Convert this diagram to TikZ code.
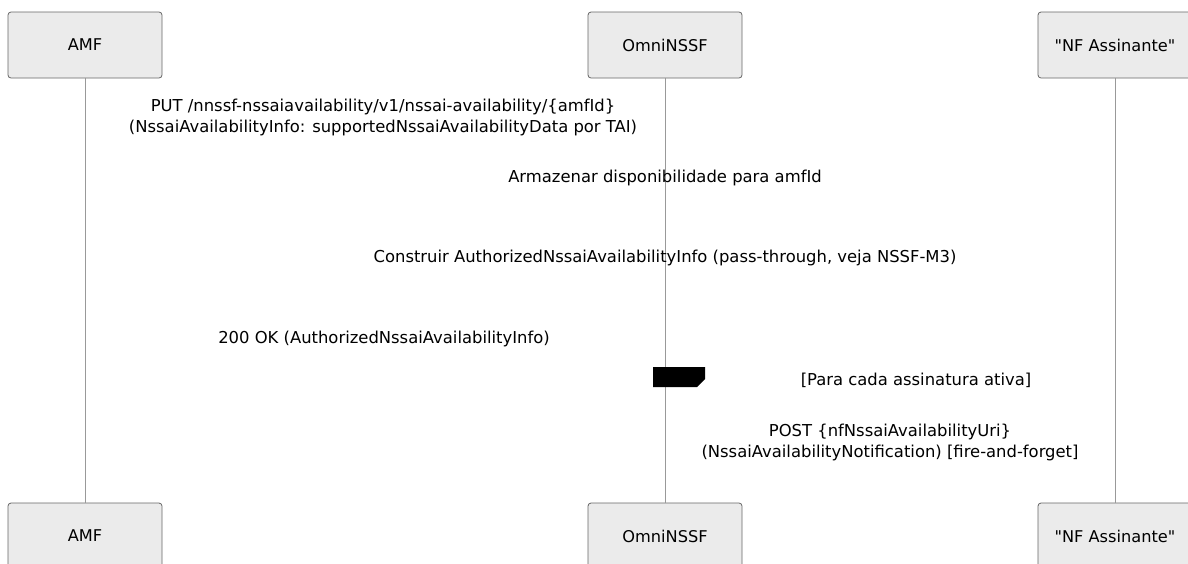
\documentclass[tikz,border=0pt]{standalone}
\usepackage{fontspec}
\setmainfont{DejaVu Sans}[Ligatures=TeXOff]
\begin{document}
\begin{tikzpicture}[x=1pt,y=-1pt,
  actor/.style={draw=black!60, fill=black!8, rounded corners=3pt, line width=0.8pt,
    minimum width=154pt, minimum height=66pt, inner sep=0pt, font=\fontsize{16.2}{19}\selectfont},
  life/.style={draw=black!40, line width=1pt},
  msg/.style={font=\fontsize{16.4}{21}\selectfont, align=center, inner sep=0pt}]
\useasboundingbox (0,0) rectangle (1188,563);
% top actors
\node[actor] (amfT) at (85,45) {AMF};
\node[actor] (nssfT) at (665,45) {OmniNSSF};
\node[actor] (nfT) at (1115,45) {"NF Assinante"};
% bottom actors
\node[actor] (amfB) at (85,536) {AMF};
\node[actor] (nssfB) at (665,536) {OmniNSSF};
\node[actor] (nfB) at (1115,536) {"NF Assinante"};
% lifelines
\draw[life] (amfT.south) -- (amfB.north);
\draw[life] (nssfT.south) -- (nssfB.north);
\draw[life] (nfT.south) -- (nfB.north);
% messages
\node[msg] (m1) at (383,117.5) {PUT /nnssf-nssaiavailability/v1/nssai-availability/\{amfId\}\\(NssaiAvailabilityInfo: supportedNssaiAvailabilityData por TAI)};
\node[msg] (m2) at (665,178) {Armazenar disponibilidade para amfId};
\node[msg] (m3) at (665,258) {Construir AuthorizedNssaiAvailabilityInfo (pass-through, veja NSSF-M3)};
\node[msg] (m4) at (384,339) {200 OK (AuthorizedNssaiAvailabilityInfo)};
% loop label
\fill[black] (653,367) -- (705,367) -- (705,379) -- (697,387) -- (653,387) -- cycle;
\node[msg] (loop) at (916,380) {[Para cada assinatura ativa]};
\node[msg] (m5) at (890,442.5) {POST \{nfNssaiAvailabilityUri\}\\(NssaiAvailabilityNotification) [fire-and-forget]};
\end{tikzpicture}
\end{document}
